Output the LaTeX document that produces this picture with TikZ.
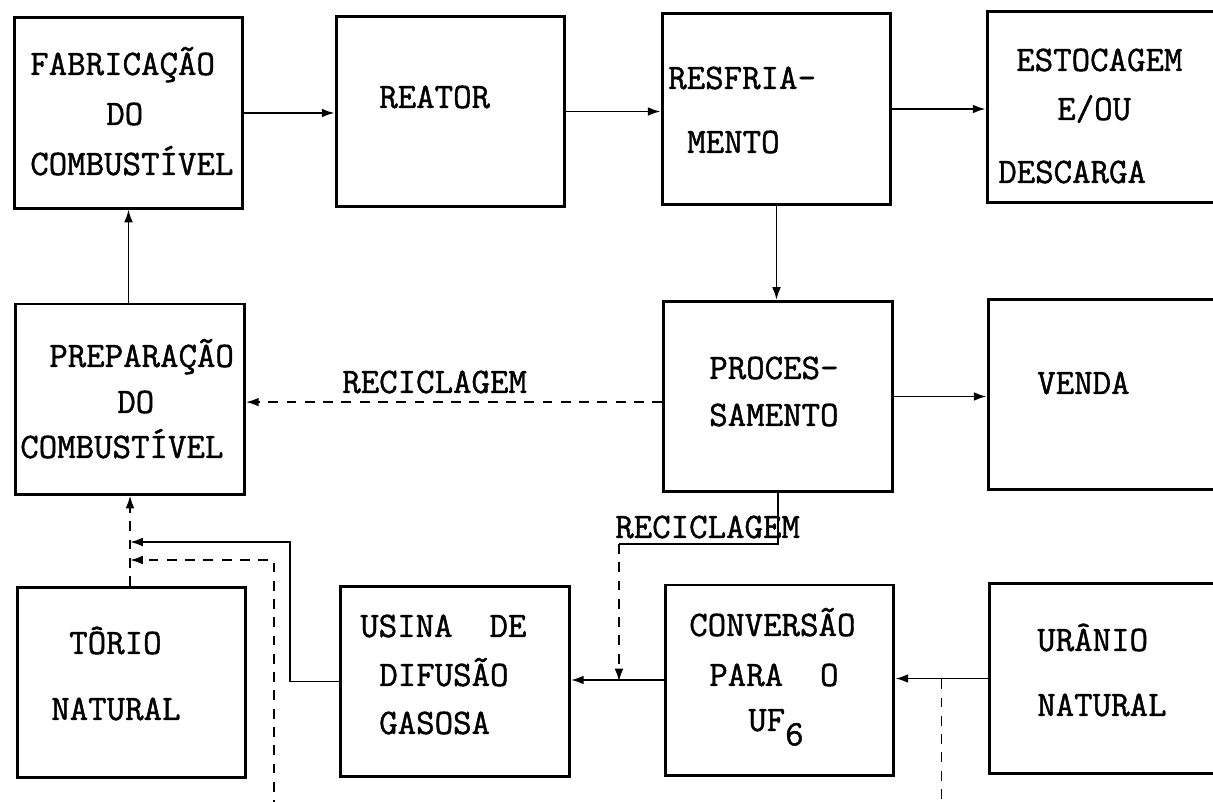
\documentclass[tikz,border=0pt]{standalone}
\usepackage{fontspec}
\setmonofont{Latin Modern Mono}[FakeBold=1.2]
\usepackage{tikz}
\usetikzlibrary{positioning, arrows.meta, calc}
\tikzset{
  stage/.style={
    rectangle, draw=black, line width=2.1pt,
    minimum width=5.72cm, minimum height=4.75cm,
    inner sep=0pt
  },
  tag/.style={
    anchor=west, inner sep=0pt,
    text height=15.6pt, text depth=0pt,
    font=\fontsize{25.5}{30}\selectfont\ttfamily
  },
  link/.style={line width=1.4pt},
  flow/.style={
    link, -{Latex[length=3.2mm, width=2.2mm]}
  },
  dashline/.style={link, dash pattern=on 7pt off 6pt},
  recycle/.style={
    dashline, -{Latex[length=3.2mm, width=2.2mm]}
  }
}

\begin{document}
\begin{tikzpicture}[x=0.025cm, y=-0.025cm]
  \clip (0,0) rectangle (1213,802);
  % blocks
  \node[stage] (fab) at (128.5,113) {};
  \node[stage] (reator) at (450.5,111.5) {};
  \node[stage] (resfr) at (776.5,109) {};
  \node[stage] (estoc) at (1101.5,107) {};
  \node[stage] (prep) at (130,399) {};
  \node[stage] (proc) at (778,396.5) {};
  \node[stage] (venda) at (1102.5,394.5) {};
  \node[stage] (torio) at (131.5,682.5) {};
  \node[stage] (usina) at (455,681.5) {};
  \node[stage] (conv) at (779.5,680) {};
  \node[stage] (uranio) at (1103.5,678.5) {};
  % texts
  \node[tag] (fabA) at (30,64) {FABRICAÇÃO};
  \node[tag] (fabB) at (106,114) {DO};
  \node[tag] (fabC) at (30,164) {COMBUSTÍVEL};
  \node[tag] (reatorA) at (379,97) {REATOR};
  \node[tag] (resfrA) at (668,78) {RESFRIA-};
  \node[tag] (resfrB) at (687,142) {MENTO};
  \node[tag] (estocA) at (1016,60) {ESTOCAGEM};
  \node[tag] (estocB) at (1057,109) {E/OU};
  \node[tag] (estocC) at (998,172) {DESCARGA};
  \node[tag] (prepA) at (49,356) {PREPARAÇÃO};
  \node[tag] (prepB) at (117,402) {DO};
  \node[tag] (prepC) at (20,447) {COMBUSTÍVEL};
  \node[tag] (recA) at (342,382) {RECICLAGEM};
  \node[tag] (procA) at (709,368) {PROCES-};
  \node[tag] (procB) at (709,415) {SAMENTO};
  \node[tag] (vendaA) at (1037,383) {VENDA};
  \node[tag] (recB) at (615,527) {RECICLAGEM};
  \node[tag] (torioA) at (69,643) {TÔRIO};
  \node[tag] (torioB) at (51,709) {NATURAL};
  \node[tag] (usinaA) at (360,626) {USINA~~DE};
  \node[tag] (usinaB) at (379,675) {DIFUSÃO};
  \node[tag] (usinaC) at (379,723) {GASOSA};
  \node[tag] (convA) at (689,625) {CONVERSÃO};
  \node[tag] (convB) at (709,675) {PARA~~O};
  \node[tag] (convC) at (748,720) {UF\raisebox{-0.4em}{6}};
  \node[tag] (uranioA) at (1037,640) {URÂNIO};
  \node[tag] (uranioB) at (1037,705) {NATURAL};
  % helper points
  \coordinate (recStart) at ([yshift=-0.14cm]proc.west);
  \coordinate (bend) at (619,544);
  \coordinate (joinA) at (130,542);
  \coordinate (joinB) at (130,560);
  \coordinate (riseA) at (290,542);
  \coordinate (riseB) at (274,560);
  \coordinate (outB) at (274,810);
  \coordinate (tapU) at ($(conv.east)!0.5!(uranio.west)$);
  \coordinate (outU) at (tapU |- outB);
  % main flow
  \draw[flow] (fab.east) -- (fab.east -| reator.west);
  \draw[flow] (reator.east) -- (reator.east -| resfr.west);
  \draw[flow] (resfr.east) -- (resfr.east -| estoc.west);
  \draw[flow] (fab.south |- prep.north) -- (fab.south);
  \draw[flow] (resfr.south) -- (resfr.south |- proc.north);
  \draw[flow] (proc.east) -- (proc.east -| venda.west);
  \draw[recycle] (recStart) -- (recStart -| prep.east);
  \draw[link] (proc.south) |- (bend);
  \draw[recycle] (bend) -- (bend |- usina.east);
  \draw[flow] (conv.west) -- (conv.west -| usina.east);
  \draw[flow] (uranio.west) -- (uranio.west -| conv.east);
  \draw[dashline] (tapU) -- (outU);
  \draw[flow] (usina.west) -| (riseA) -- (joinA);
  \draw[recycle] (outB) -- (riseB) -- (joinB);
  \draw[recycle] (prep.south |- torio.north) -- (prep.south);
\end{tikzpicture}
\end{document}
